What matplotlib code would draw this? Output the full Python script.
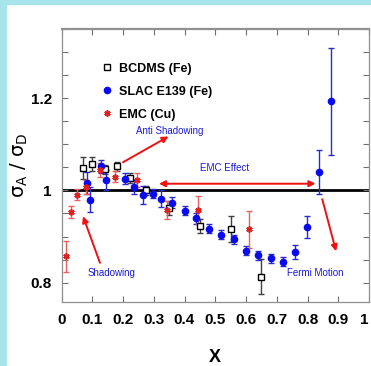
import matplotlib
matplotlib.use("Agg")
import matplotlib.pyplot as plt
from matplotlib.patches import Rectangle
from matplotlib.ticker import MultipleLocator, FixedLocator, FuncFormatter

plt.rcParams['mathtext.fontset'] = 'dejavusans'
plt.rcParams['mathtext.default'] = 'regular'
FAM = ['Liberation Sans', 'DejaVu Sans']

# BCDMS (Fe)
bc_x = [0.070, 0.100, 0.141, 0.181, 0.224, 0.274, 0.349, 0.449, 0.550, 0.649]
bc_y = [1.049, 1.058, 1.046, 1.052, 1.027, 1.000, 0.961, 0.923, 0.916, 0.813]
bc_e = [0.024, 0.015, 0.010, 0.010, 0.010, 0.010, 0.015, 0.015, 0.028, 0.038]

# SLAC E139 (Fe)
sl_x = [0.084, 0.094, 0.127, 0.146, 0.206, 0.235, 0.266, 0.296, 0.325, 0.360,
        0.400, 0.439, 0.479, 0.519, 0.560, 0.600, 0.640, 0.680, 0.720, 0.759,
        0.799, 0.839, 0.878]
sl_y = [1.016, 0.980, 1.052, 1.023, 1.025, 1.007, 0.990, 0.993, 0.982, 0.973,
        0.956, 0.940, 0.917, 0.904, 0.894, 0.869, 0.859, 0.853, 0.845, 0.867,
        0.920, 1.040, 1.193]
sl_e = [0.023, 0.027, 0.015, 0.022, 0.012, 0.015, 0.020, 0.010, 0.018, 0.012,
        0.010, 0.012, 0.010, 0.010, 0.010, 0.010, 0.010, 0.010, 0.010, 0.015,
        0.024, 0.048, 0.116]

# EMC (Cu)
em_x = [0.016, 0.031, 0.051, 0.081, 0.125, 0.173, 0.244, 0.344, 0.443, 0.611]
em_y = [0.857, 0.954, 0.991, 1.007, 1.045, 1.030, 1.023, 0.957, 0.958, 0.916]
em_e = [0.033, 0.013, 0.012, 0.015, 0.015, 0.012, 0.015, 0.020, 0.030, 0.040]

x_ticks = [0, 0.1, 0.2, 0.3, 0.4, 0.5, 0.6, 0.7, 0.8, 0.9, 1.0]
y_ticks = [0.8, 1.0, 1.2]

fig = plt.figure(figsize=(3.71, 3.66), dpi=100)
fig.patches.append(Rectangle((0, 0), 6/371, 1, transform=fig.transFigure,
                             color='#a8e4ec', zorder=0))
fig.patches.append(Rectangle((0, 1-4/366), 1, 4/366, transform=fig.transFigure,
                             color='#a8e4ec', zorder=0))
ax = fig.add_axes([61.5/371, 1-302/366, (369-61.5)/371, (302-29)/366])

ax.axhline(1.0, color='black', lw=2, zorder=1)

ax.errorbar(bc_x, bc_y, yerr=bc_e, fmt='none', ecolor='#404040', elinewidth=1,
            capsize=2.5, capthick=1, zorder=3)
ax.plot(bc_x, bc_y, ls='none', marker='s', ms=4.5, mfc='white', mec='black',
        mew=1, label='BCDMS (Fe)', zorder=4)

ax.errorbar(sl_x, sl_y, yerr=sl_e, fmt='none', ecolor='#2a2ad0', elinewidth=1,
            capsize=2.5, capthick=1, zorder=3)
ax.plot(sl_x, sl_y, ls='none', marker='o', ms=4.5, mfc='#0a0af0', mec='#0a0af0',
        label='SLAC E139 (Fe)', zorder=4)

ax.errorbar(em_x, em_y, yerr=em_e, fmt='none', ecolor='#e86060', elinewidth=1,
            capsize=2.5, capthick=1, zorder=3)
ax.plot(em_x, em_y, ls='none', marker=(6, 2, 0), ms=4.5, mec='#e02020',
        mew=1.2, label='EMC (Cu)', zorder=4)

ax.set_xlim(0, 1.0)
ax.set_ylim(0.758, 1.35)

ax.xaxis.set_major_locator(FixedLocator(x_ticks))
ax.xaxis.set_major_formatter(FuncFormatter(lambda v, p: ('%.1f' % v).rstrip('0').rstrip('.') if v else '0'))
ax.yaxis.set_major_locator(FixedLocator(y_ticks))
ax.yaxis.set_major_formatter(FuncFormatter(lambda v, p: ('%.1f' % v).rstrip('0').rstrip('.')))
ax.yaxis.set_minor_locator(MultipleLocator(0.05))
ax.tick_params(which='both', direction='in', top=True, right=True,
               length=4, width=0.8, color='#707070')
ax.tick_params(axis='x', pad=8)
ax.tick_params(axis='y', pad=7)
fig.canvas.draw()
for lab in ax.get_xticklabels() + ax.get_yticklabels():
    lab.set_fontfamily(FAM)
    lab.set_fontweight('bold')
    lab.set_fontsize(11)
ax.get_xticklabels()[-1].set_horizontalalignment('right')
for s in ax.spines.values():
    s.set_color('#909090')
    s.set_linewidth(0.9)
ax.spines['top'].set_linewidth(1.6)

ax.set_xlabel('X', fontsize=13, fontweight='bold', family=FAM, labelpad=16)
ax.set_ylabel(r'$\sigma_A$ / $\sigma_D$', fontsize=14)
ax.yaxis.set_label_coords(-0.102, 0.5)

leg = ax.legend(loc='upper left', bbox_to_anchor=(0.095, 0.918), frameon=False,
                handlelength=0.8, handletextpad=0.6, labelspacing=0.88,
                prop={'family': FAM, 'weight': 'bold', 'size': 9})

blue = '#1a1ad8'
arr = dict(arrowstyle='-|>', color='#f01010', lw=1.4, mutation_scale=9,
           shrinkA=0, shrinkB=0)
ax.text(0.352, 1.128, 'Anti Shadowing', color=blue, fontsize=7, family=FAM,
        ha='center', va='center')
ax.annotate('', xy=(0.348, 1.117), xytext=(0.200, 1.061), arrowprops=arr)
ax.text(0.531, 1.049, 'EMC Effect', color=blue, fontsize=7, family=FAM,
        ha='center', va='center')
ax.annotate('', xy=(0.826, 1.0145), xytext=(0.317, 1.0145),
            arrowprops=dict(arr, arrowstyle='<|-|>'))
ax.text(0.162, 0.820, 'Shadowing', color=blue, fontsize=7, family=FAM,
        ha='center', va='center')
ax.annotate('', xy=(0.070, 0.944), xytext=(0.125, 0.843), arrowprops=arr)
ax.text(0.826, 0.820, 'Fermi Motion', color=blue, fontsize=7, family=FAM,
        ha='center', va='center')
ax.annotate('', xy=(0.893, 0.868), xytext=(0.848, 0.981), arrowprops=arr)

fig.savefig('out.png', dpi=100)
